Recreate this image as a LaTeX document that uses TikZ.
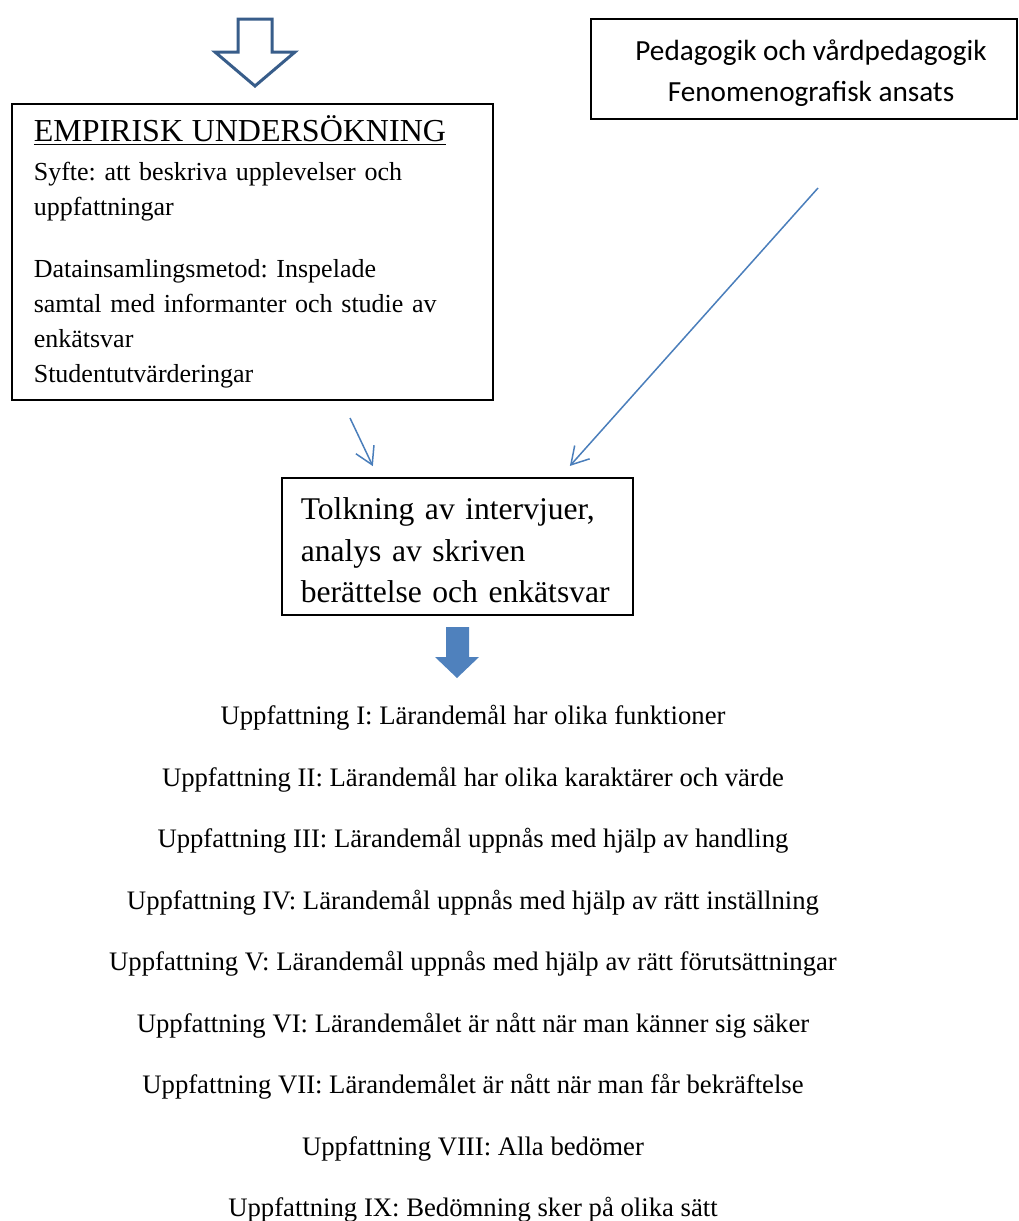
\documentclass[tikz,border=0pt]{standalone}
\usepackage{fontspec}
\setmainfont{Liberation Serif}
\newfontfamily\calibri{Carlito}
\usetikzlibrary{arrows.meta,calc}
\definecolor{pilbla}{RGB}{74,126,187}
\definecolor{pilmork}{RGB}{56,93,138}
\definecolor{pilfyll}{RGB}{79,129,189}
\frenchspacing

\begin{document}
\begin{tikzpicture}[x=0.5pt,y=-0.5pt,
    ruta/.style={draw=black, line width=0.8pt},
    tunnpil/.style={draw=pilbla, line width=0.75pt, -{Straight Barb[length=8.5pt,width=10pt]}},
    rad/.style={font=\fontsize{13.35}{15}\selectfont, inner sep=0pt}]
    \useasboundingbox (0,0) rectangle (1018,1221);

    \draw[draw=pilmork, fill=white, line width=1.5pt, line join=miter] (238,19) -- (272,19) -- (272,52) -- (295,52) -- (255,86) -- (215,52) -- (238,52) -- cycle;

    \node[ruta, anchor=north west, text width=218.5pt, inner xsep=11pt, minimum height=148pt, align=left, font=\fontsize{13}{17.5}\selectfont] (empir) at (11,103)
        {{\fontsize{16}{17.5}\selectfont\underline{EMPIRISK UNDERSÖKNING}}\\[2pt]
        Syfte: att beskriva upplevelser och\\uppfattningar\\[13.5pt]
        Datainsamlingsmetod: Inspelade\\samtal med informanter och studie av\\enkätsvar\\Studentutvärderingar};

    \node[ruta, minimum width=213pt, minimum height=50pt, align=center, font=\calibri\fontsize{14.6}{20.5}\selectfont] (peda) at (804,69)
        {\rule{0pt}{14.5pt}\hspace*{7pt}Pedagogik och vårdpedagogik\\\hspace*{7pt}Fenomenografisk ansats};

    \node[ruta, anchor=north west, text width=175.5pt, inner xsep=0pt, minimum height=68.5pt, align=left, font=\fontsize{15.8}{20.75}\selectfont] (tolk) at (281,477)
        {\rule{0pt}{15pt}\hspace*{9.5pt}Tolkning av intervjuer,\\\hspace*{9.5pt}analys av skriven\\\hspace*{9.5pt}berättelse och enkätsvar};

    \coordinate (empirfot) at (350,418);
    \coordinate (pedafot) at (818,188);
    \draw[tunnpil, shorten >=6pt] (empirfot) -- ($(tolk.north west)+(97,0)$);
    \draw[tunnpil, shorten >=7.4pt] (pedafot) -- ($(tolk.north west)+(279,0)$);

    \fill[pilfyll] (446,627) -- (469,627) -- (469,657) -- (479,657) -- (457,678) -- (435,657) -- (446,657) -- cycle;

    \foreach \txt [count=\i] in {
        Uppfattning I: Lärandemål har olika funktioner,
        Uppfattning II: Lärandemål har olika karaktärer och värde,
        Uppfattning III: Lärandemål uppnås med hjälp av handling,
        Uppfattning IV: Lärandemål uppnås med hjälp av rätt inställning,
        Uppfattning V: Lärandemål uppnås med hjälp av rätt förutsättningar,
        Uppfattning VI: Lärandemålet är nått när man känner sig säker,
        Uppfattning VII: Lärandemålet är nått när man får bekräftelse,
        Uppfattning VIII: Alla bedömer,
        Uppfattning IX: Bedömning sker på olika sätt}
        \node[rad] (upp\i) at (473,{718+61.5*(\i-1)}) {\txt};

\end{tikzpicture}
\end{document}
